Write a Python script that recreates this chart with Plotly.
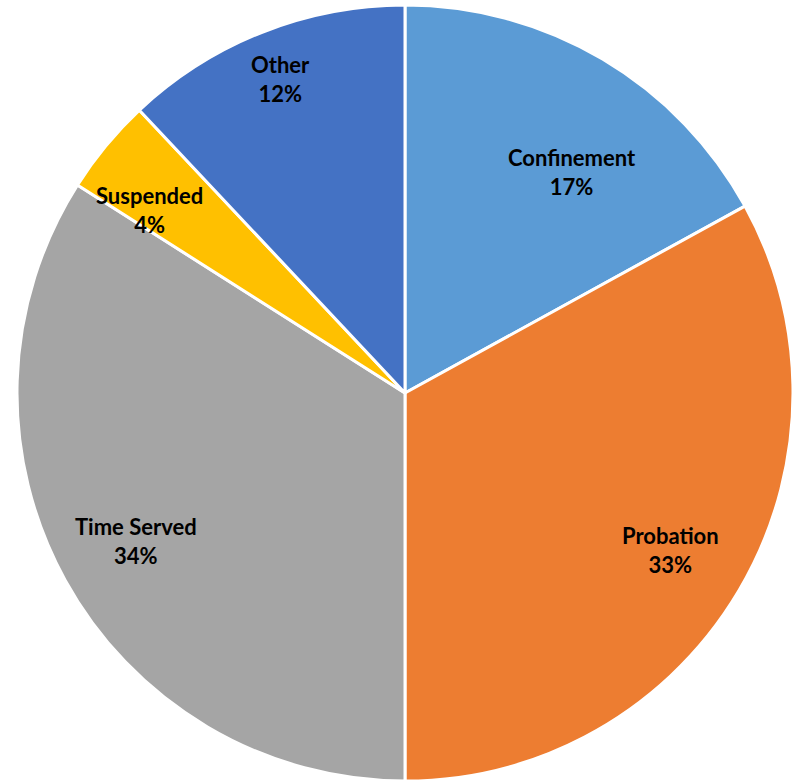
import math
import plotly.graph_objects as go

categories = ["Confinement", "Probation", "Time Served", "Suspended", "Other"]
values = [17, 33, 34, 4, 12]
colors = ["#5B9BD5", "#ED7D31", "#A5A5A5", "#FFC000", "#4472C4"]

# label placement style (radial fraction of radius, angular nudge in degrees)
label_radius = [0.714, 0.795, 0.79, 0.81, 0.87]
label_nudge = [6.5, 0, 0, -4, 0]

W, H = 796, 781
cx, cy, r = 405, 393, 388

fig = go.Figure(go.Pie(
    labels=categories,
    values=values,
    sort=False,
    direction="clockwise",
    rotation=0,
    marker=dict(colors=colors, line=dict(color="white", width=3)),
    textinfo="none",
    hoverinfo="label+percent",
    domain=dict(x=[(cx - r) / W, (cx + r) / W], y=[(H - cy - r) / H, (H - cy + r) / H]),
))

total = sum(values)
cum = 0
annotations = []
for cat, v, fr, nd in zip(categories, values, label_radius, label_nudge):
    mid = (cum + v / 2) / total * 360 + nd
    cum += v
    th = math.radians(mid)
    px = cx + r * fr * math.sin(th)
    py = cy - r * fr * math.cos(th)
    pct = round(v / total * 100)
    annotations.append(dict(
        x=px / W, y=(H - py) / H, xref="paper", yref="paper",
        text=f"<b>{cat}</b><br><b>{pct}%</b>",
        showarrow=False, xanchor="center", yanchor="middle",
        font=dict(family="Lato", size=22, color="black"),
    ))

fig.update_layout(
    width=W, height=H,
    margin=dict(l=0, r=0, t=0, b=0),
    paper_bgcolor="white",
    showlegend=False,
    annotations=annotations,
)

fig.write_html("out.html", config={"displayModeBar": False},
               post_script="document.body.style.margin='0px';")
